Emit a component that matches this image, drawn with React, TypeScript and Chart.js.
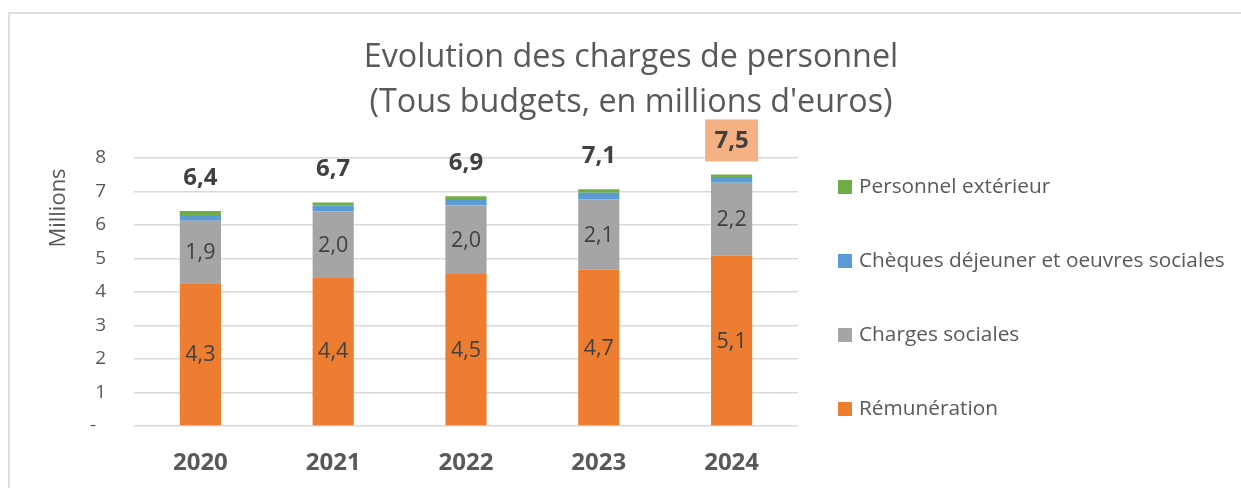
import React, { useEffect, useRef } from 'react';
import { Chart, registerables } from 'chart.js';

Chart.register(...registerables);

const titleLines = ['Evolution des charges de personnel', "(Tous budgets, en millions d'euros)"];
const yAxisUnit = 'Millions';
const years = ['2020', '2021', '2022', '2023', '2024'];
const seriesLabels = ['Rémunération', 'Charges sociales', 'Chèques déjeuner et oeuvres sociales', 'Personnel extérieur'];
const remuneration = [4.26, 4.44, 4.54, 4.67, 5.08];
const chargesSociales = [1.87, 1.96, 2.04, 2.10, 2.18];
const chequesDejeuner = [0.17, 0.18, 0.17, 0.19, 0.17];
const personnelExterieur = [0.12, 0.09, 0.11, 0.11, 0.08];
const showValueLabels = [true, true, false, false];
const yTickLabels = ['-  ', '1', '2', '3', '4', '5', '6', '7', '8'];
const highlightedYear = '2024';

const seriesColors = ['#ED7D31', '#A5A5A5', '#5B9BD5', '#70AD47'];
const FONT = '"Open Sans", "Noto Sans", sans-serif';
const fmt = (v: number) => v.toFixed(1).replace('.', ',');

const overlayPlugin = {
  id: 'overlay',
  afterDraw(chart: any) {
    const ctx = chart.ctx;
    const yScale = chart.scales.y;
    ctx.save();

    // Title
    ctx.fillStyle = '#595959';
    ctx.font = `32.3px ${FONT}`;
    ctx.textAlign = 'center';
    ctx.textBaseline = 'alphabetic';
    titleLines.forEach((t, i) => ctx.fillText(t, 631, 67 + i * 45));

    // Display unit label
    ctx.save();
    ctx.translate(59, 208);
    ctx.rotate(-Math.PI / 2);
    ctx.font = `22px ${FONT}`;
    ctx.textAlign = 'center';
    ctx.textBaseline = 'middle';
    ctx.fillStyle = '#595959';
    ctx.fillText(yAxisUnit, 0, 0);
    ctx.restore();

    // Segment value labels
    ctx.font = `21.5px ${FONT}`;
    ctx.fillStyle = '#404040';
    ctx.textAlign = 'center';
    ctx.textBaseline = 'middle';
    chart.data.datasets.forEach((ds: any, di: number) => {
      if (!showValueLabels[di]) return;
      const meta = chart.getDatasetMeta(di);
      meta.data.forEach((bar: any, i: number) => {
        const { x, y, base } = bar.getProps(['x', 'y', 'base'], true);
        ctx.fillText(fmt(ds.data[i]), x, (y + base) / 2 + 1);
      });
    });

    // Totals
    const labels = chart.data.labels;
    labels.forEach((lab: string, i: number) => {
      let total = 0;
      chart.data.datasets.forEach((ds: any) => (total += ds.data[i]));
      const x = chart.getDatasetMeta(0).data[i].x;
      const y = yScale.getPixelForValue(total) - 34;
      if (lab === highlightedYear) {
        ctx.fillStyle = '#F4B183';
        ctx.fillRect(x - 26.5, y - 21, 53, 42);
      }
      ctx.font = `bold 24px ${FONT}`;
      ctx.fillStyle = '#404040';
      ctx.fillText(fmt(total), x, y + 1);
    });

    // Legend (reverse order, right side)
    ctx.textAlign = 'left';
    ctx.textBaseline = 'middle';
    ctx.font = `20.8px ${FONT}`;
    const n = chart.data.datasets.length;
    for (let k = 0; k < n; k++) {
      const ds = chart.data.datasets[n - 1 - k];
      const top = 180 + k * 74;
      ctx.fillStyle = ds.backgroundColor;
      ctx.fillRect(838, top, 14, 14);
      ctx.fillStyle = '#595959';
      ctx.fillText(ds.label, 859, top + 7);
    }
    ctx.restore();
  },
};

export default function App() {
  const ref = useRef<HTMLCanvasElement>(null);
  useEffect(() => {
    if (!ref.current) return;
    const seriesData = [remuneration, chargesSociales, chequesDejeuner, personnelExterieur];
    const chart = new Chart(ref.current, {
      type: 'bar',
      data: {
        labels: years,
        datasets: seriesData.map((d, i) => ({
          label: seriesLabels[i],
          data: d,
          backgroundColor: seriesColors[i],
          borderWidth: 0,
          barPercentage: 0.31,
          categoryPercentage: 1,
        })),
      },
      options: {
        responsive: false,
        animation: false,
        layout: { padding: { top: 158, left: 0, right: 443, bottom: 0 } },
        plugins: {
          legend: { display: false },
          title: { display: false },
          tooltip: { enabled: false },
        },
        scales: {
          x: {
            stacked: true,
            grid: { display: false, drawTicks: false },
            border: { display: false },
            ticks: {
              color: '#595959',
              font: { family: FONT, size: 24, weight: 'bold' },
              padding: 23,
            },
            afterFit: (s: any) => {
              s.height = 62;
            },
          },
          y: {
            stacked: true,
            min: 0,
            max: 8,
            grid: { color: '#D9D9D9', lineWidth: 1.5, drawTicks: false },
            border: { display: false },
            ticks: {
              stepSize: 1,
              color: '#595959',
              font: { family: FONT, size: 19 },
              padding: 28,
              callback: (v: any) => yTickLabels[Math.round(Number(v))],
            },
            afterFit: (s: any) => {
              s.width = 134;
            },
          },
        },
      },
      plugins: [overlayPlugin],
    } as any);
    return () => chart.destroy();
  }, []);

  return (
    <div style={{ position: 'fixed', left: 0, top: 0, width: 1241, height: 488, overflow: 'hidden', background: '#fff' }}>
      <div
        style={{
          position: 'absolute',
          left: 8,
          top: 12,
          width: 1400,
          height: 700,
          borderLeft: '2px solid #DEDEDE',
          borderTop: '2px solid #DEDEDE',
        }}
      />
      <canvas ref={ref} width={1241} height={488} style={{ position: 'absolute', left: 0, top: 0, width: 1241, height: 488 }} />
    </div>
  );
}
